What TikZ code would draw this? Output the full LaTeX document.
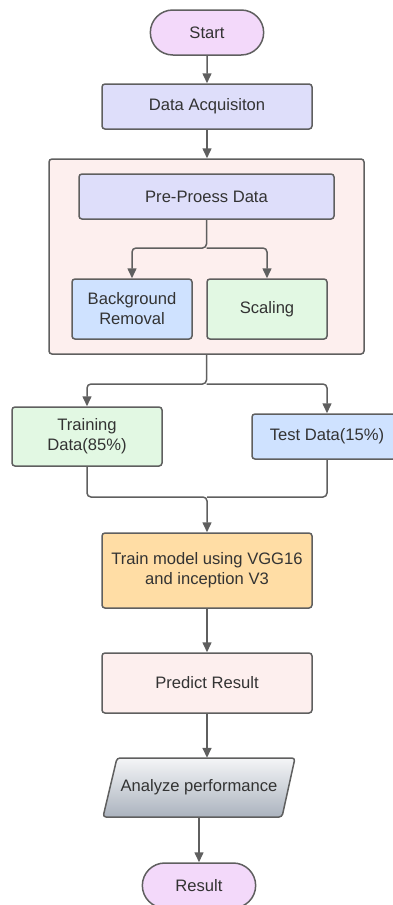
\documentclass[tikz,border=0pt]{standalone}
\usepackage{fontspec}
\setmainfont{Liberation Sans}
\usetikzlibrary{arrows.meta,shapes.geometric,shapes.misc}
\definecolor{lnc}{HTML}{5F5F5F}
\definecolor{txt}{HTML}{333333}
\definecolor{termc}{HTML}{F3D9FA}
\definecolor{lav}{HTML}{DEDEFA}
\definecolor{pnk}{HTML}{FDEFEE}
\definecolor{blu}{HTML}{CFE2FF}
\definecolor{grn}{HTML}{E2F8E3}
\definecolor{org}{HTML}{FFDDA5}
\definecolor{anatop}{HTML}{F4F5F7}
\definecolor{anabot}{HTML}{ABB3BE}
\tikzset{
  box/.style={draw=lnc, line width=1.5pt, rounded corners=3pt, align=center, text=txt, inner sep=2pt},
  term/.style={rounded rectangle, draw=lnc, line width=1.5pt, fill=termc, text=txt, minimum width=120pt, minimum height=45pt},
  arr/.style={draw=lnc, line width=1.5pt, -{Triangle[width=9pt,length=10pt]}},
  conn/.style={draw=lnc, line width=1.5pt, rounded corners=4pt},
  para/.style={draw=lnc, line width=1.5pt, rounded corners=3pt, top color=anatop, bottom color=anabot}
}
\begin{document}
\begin{tikzpicture}[x=1pt,y=-1pt,font=\fontsize{16.6}{20}\selectfont]
\useasboundingbox (0,0) rectangle (393,905);
\clip (0,0) rectangle (393,905);
\node[term] (start) at (207,32.5) {Start};
\node[box, fill=lav, minimum width=210pt, minimum height=45pt] (acq) at (207,106.5) {Data Acquisiton};
\node[box, fill=pnk, minimum width=315pt, minimum height=195pt] (cont) at (206.5,256.5) {};
\node[box, fill=lav, minimum width=255pt, minimum height=45pt] (pre) at (206.5,196.5) {Pre-Proess Data};
\node[box, fill=blu, minimum width=120pt, minimum height=60pt] (bg) at (132,309) {Background\\Removal};
\node[box, fill=grn, minimum width=120pt, minimum height=60pt] (scal) at (267,309) {Scaling};
\node[box, fill=grn, minimum width=150pt, minimum height=59pt] (train) at (87,436.5) {Training\\Data(85\%)};
\node[box, fill=blu, minimum width=150pt, minimum height=45pt] (test) at (327,436.5) {Test Data(15\%)};
\node[box, fill=org, minimum width=210pt, minimum height=75pt] (model) at (207,570.5) {Train model using VGG16\\and inception V3};
\node[box, fill=pnk, minimum width=210pt, minimum height=60pt] (pred) at (207,683) {Predict Result};
\path[para] (103,817) -- (117,758) -- (295,758) -- (282,817) -- cycle;
\node[text=txt, minimum width=180pt, minimum height=59pt, inner sep=0pt] (ana) at (199,787.5) {Analyze performance};
\node[term] (res) at (199,885.5) {Result};
\draw[arr] (start) -- (acq);
\draw[arr] (acq.south) -- (acq.south |- cont.north);
\coordinate (j1) at (206.5,248);
\draw[arr, rounded corners=4pt] (pre.south) -- (j1) -| (bg.north);
\draw[arr, rounded corners=4pt] (j1) -| (scal.north);
\coordinate (j2) at (206.5,384);
\draw[arr, rounded corners=4pt] (cont.south) -- (j2) -| (train.north);
\draw[arr, rounded corners=4pt] (j2) -| (test.north);
\coordinate (j3) at (207,497);
\draw[arr, rounded corners=4pt] (train.south) |- (j3) -- (model.north);
\draw[conn] (test.south) |- (j3);
\draw[arr] (model) -- (pred);
\draw[arr] (pred.south) -- (pred.south |- ana.north);
\draw[arr] (ana.south) -- (res.north);
\end{tikzpicture}
\end{document}
